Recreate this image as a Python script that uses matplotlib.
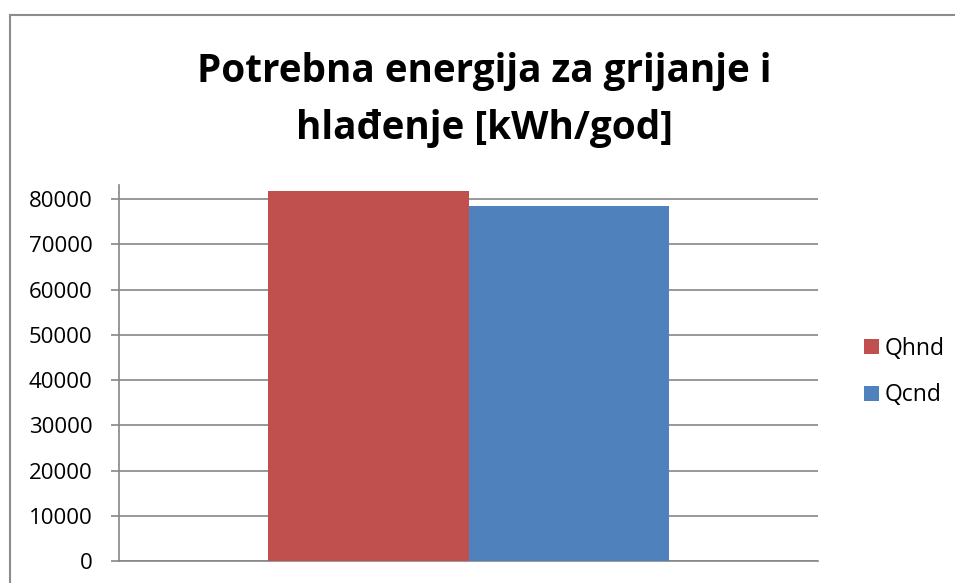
import matplotlib.pyplot as plt
from matplotlib.patches import Rectangle

# Data
series = ['Qhnd', 'Qcnd']
values = [81800, 78450]
colors = ['#C0504D', '#4F81BD']
yticks = list(range(0, 80001, 10000))

plt.rcParams['font.family'] = ['Open Sans', 'DejaVu Sans']

W, H = 955, 583
fig = plt.figure(figsize=(W / 100, H / 100), dpi=100)

# outer chart border (cut off at right/bottom like the reference)
fig.patches.append(Rectangle((10 / W, -0.05), 1.0, 1 - 14.5 / H + 0.05,
                             transform=fig.transFigure, fill=False,
                             edgecolor='#8c8c8c', linewidth=1.5))

ax = fig.add_axes([119 / W, (H - 561) / H, (818 - 119) / W, (561 - 185) / H])

bar_width = 0.287
n = len(series)
for i, (name, val) in enumerate(zip(series, values)):
    x = (i - (n - 1) / 2) * bar_width
    ax.bar(x, val, bar_width, color=colors[i], label=name, zorder=3)

ax.set_xlim(-0.5, 0.5)
ax.set_ylim(0, 83100)
ax.set_yticks(yticks)
ax.set_yticklabels([str(t) for t in yticks], fontsize=16)
ax.set_xticks([])
ax.yaxis.grid(True, color='#868686', linewidth=1.2, zorder=0)
ax.tick_params(axis='y', length=6, width=1.2, color='#868686', pad=13)

for s in ['top', 'right']:
    ax.spines[s].set_visible(False)
ax.spines['left'].set_color('#868686')
ax.spines['left'].set_linewidth(1.2)
ax.spines['bottom'].set_color('#868686')
ax.spines['bottom'].set_linewidth(1.2)

fig.text(484 / W, 1 - 100 / H, 'Potrebna energija za grijanje i\nhlađenje [kWh/god]',
         ha='center', va='center', fontsize=27.8, fontweight='bold',
         linespacing=1.62)

ax.legend(loc='center left', bbox_to_anchor=(843 / W, 1 - 372 / H),
          bbox_transform=fig.transFigure, frameon=False, fontsize=16.5,
          handlelength=0.68, handleheight=0.68, handletextpad=0.25,
          labelspacing=1.0)

fig.savefig('out.png', dpi=100)
